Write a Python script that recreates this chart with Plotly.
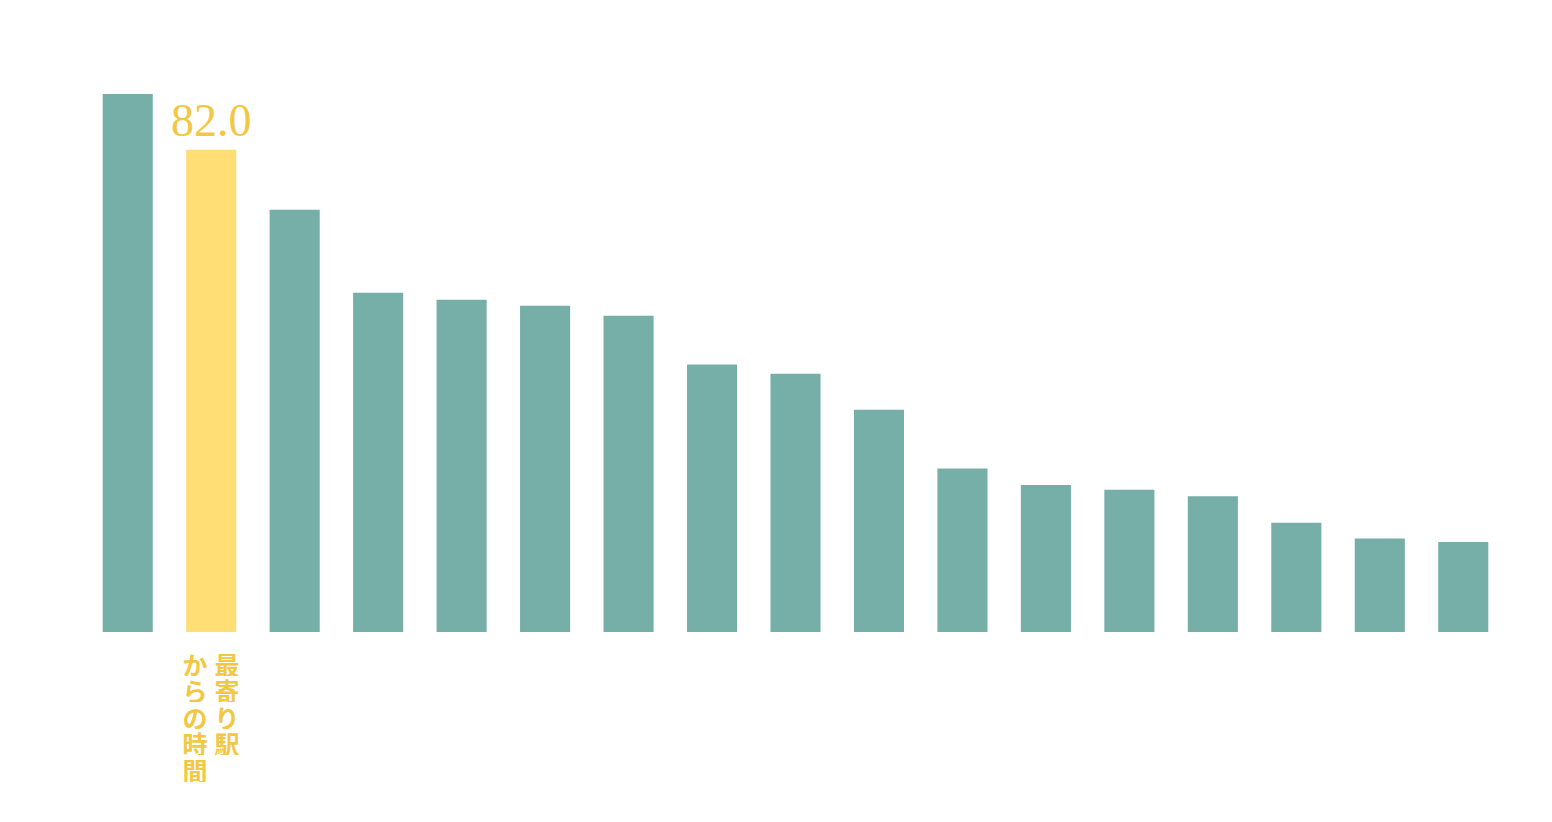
import plotly.graph_objects as go

categories = ["項目1", "最寄り駅からの時間", "項目3", "項目4", "項目5", "項目6", "項目7", "項目8",
              "項目9", "項目10", "項目11", "項目12", "項目13", "項目14", "項目15", "項目16", "項目17"]
values = [91.5, 82.0, 71.8, 57.7, 56.5, 55.5, 53.8, 45.5, 43.9, 37.8, 27.8, 25.0, 24.2, 23.1, 18.6, 15.9, 15.3]
highlight_index = 1
highlight_label_columns = ["最寄り駅", "からの時間"]  # vertical writing, right column first

TEAL = "#76AFA7"
YELLOW = "#FFDE75"
TEXT_YELLOW = "#F2C744"

colors = [YELLOW if i == highlight_index else TEAL for i in range(len(values))]

fig = go.Figure()
fig.add_trace(go.Bar(
    x=categories, y=values,
    marker=dict(color=colors, line=dict(width=0)),
    hoverinfo="x+y",
))

# value label above highlighted bar
fig.add_annotation(
    x=categories[highlight_index], y=values[highlight_index],
    xref="x", yref="y", text=f"{values[highlight_index]:.1f}",
    showarrow=False, yanchor="bottom", yshift=2,
    font=dict(family="Liberation Serif", size=46, color=TEXT_YELLOW),
)

# vertical category label (characters stacked, columns right-to-left)
char_step = 26.5
col_offsets = [16, -16]
for ci, col in enumerate(highlight_label_columns):
    for ri, ch in enumerate(col):
        fig.add_annotation(
            x=categories[highlight_index], y=0, xref="x", yref="paper",
            text=f"<b>{ch}</b>", showarrow=False,
            xanchor="center", yanchor="middle",
            width=26, height=25, borderpad=0,
            xshift=col_offsets[ci], yshift=-(31 + ri * char_step),
            font=dict(family="Noto Sans CJK JP", size=25, color=TEXT_YELLOW),
        )

fig.update_layout(
    width=1552, height=822,
    margin=dict(l=86, r=47, t=44, b=190),
    paper_bgcolor="white", plot_bgcolor="white",
    bargap=0.4, showlegend=False,
    xaxis=dict(showticklabels=False, showgrid=False, zeroline=False, showline=False, ticks=""),
    yaxis=dict(range=[0, 100], showticklabels=False, showgrid=False, zeroline=False, showline=False, ticks=""),
)

fig.write_html("out.html")
